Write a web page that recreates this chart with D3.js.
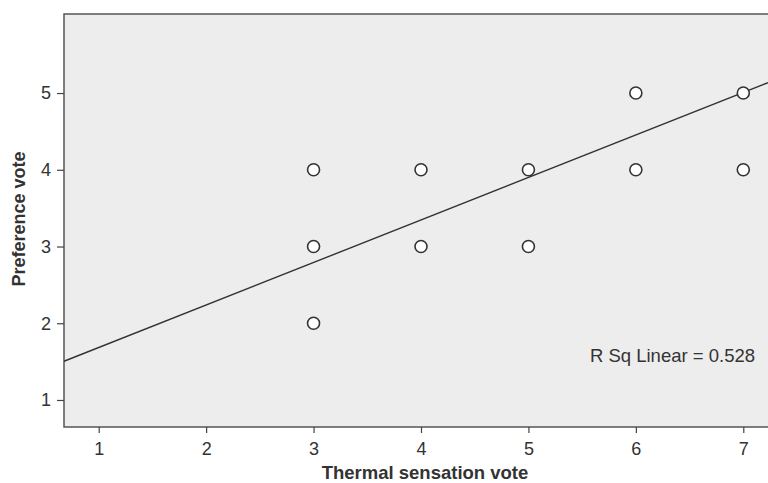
<!DOCTYPE html>
<html>
<head>
<meta charset="utf-8">
<script src="https://cdn.jsdelivr.net/npm/d3@7"></script>
<style>
  body { margin:0; background:#fff; }
  text { font-family: "Liberation Sans", Arial, sans-serif; fill:#333; }
</style>
</head>
<body>
<div class="canvas"></div>
<script>
// data
const thermal    = [3, 3, 3, 4, 4, 5, 5, 6, 6, 7, 7];
const preference = [4, 3, 2, 4, 3, 4, 3, 5, 4, 5, 4];
const xTicks = [1, 2, 3, 4, 5, 6, 7];
const yTicks = [1, 2, 3, 4, 5];
const fit = { intercept: 1.13, slope: 0.554, rsq: 0.528 };

const dims = { width: 768, height: 483 };
const plot = { left: 64, top: 14, right: 768, bottom: 427 };

const svg = d3.select('.canvas')
    .append('svg')
    .attr('width', dims.width)
    .attr('height', dims.height);

const x = d3.scaleLinear().domain([0.677, 7.23]).range([plot.left, plot.right]);
const y = d3.scaleLinear().domain([0.648, 6.03]).range([plot.bottom, plot.top]);

// background panel
svg.append('rect')
    .attr('x', plot.left).attr('y', plot.top)
    .attr('width', plot.right - plot.left + 2)
    .attr('height', plot.bottom - plot.top)
    .attr('fill', '#ededed')
    .attr('stroke', '#555')
    .attr('stroke-width', 1.5);

// axes
const xAxis = svg.append('g')
    .attr('transform', `translate(0,${plot.bottom})`)
    .call(d3.axisBottom(x).tickValues(xTicks).tickSize(6).tickPadding(9).tickFormat(d3.format('d')));
const yAxis = svg.append('g')
    .attr('transform', `translate(${plot.left},0)`)
    .call(d3.axisLeft(y).tickValues(yTicks).tickSize(7).tickPadding(6).tickFormat(d3.format('d')));

[xAxis, yAxis].forEach(a => {
    a.select('.domain').remove();
    a.attr('font-size', 18).attr('font-family', '"Liberation Sans", Arial, sans-serif');
    a.selectAll('.tick line').attr('stroke', '#444').attr('stroke-width', 1.2);
    a.selectAll('.tick text')
      .attr('font-size', 18)
      .style('font-size', '18px')
      .attr('fill', '#333');
});

// fit line
const line = d3.line().x(d => x(d)).y(d => y(fit.intercept + fit.slope * d));
svg.append('path')
    .attr('d', line(x.domain()))
    .attr('fill', 'none')
    .attr('stroke', '#333')
    .attr('stroke-width', 1.4);

// points
svg.selectAll('circle.pt')
    .data(thermal.map((t, i) => ({ t, p: preference[i] })))
    .enter()
  .append('circle')
    .attr('class', 'pt')
    .attr('cx', d => x(d.t))
    .attr('cy', d => y(d.p))
    .attr('r', 6)
    .attr('fill', '#fff')
    .attr('stroke', '#333')
    .attr('stroke-width', 1.6);

// r square label
svg.append('text')
    .attr('x', 755).attr('y', 362)
    .attr('text-anchor', 'end')
    .style('font-size', '18.5px')
    .text(`R Sq Linear = ${fit.rsq}`);

// axis titles
svg.append('text')
    .attr('x', 425).attr('y', 479)
    .attr('text-anchor', 'middle')
    .style('font-size', '18.5px').style('font-weight', 'bold')
    .text('Thermal sensation vote');

svg.append('text')
    .attr('transform', 'translate(25,219) rotate(-90)')
    .attr('text-anchor', 'middle')
    .style('font-size', '18px').style('font-weight', 'bold')
    .text('Preference vote');
</script>
</body>
</html>
